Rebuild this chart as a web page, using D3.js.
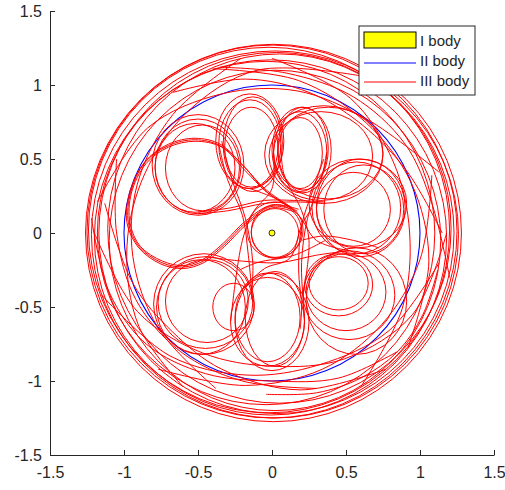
<!DOCTYPE html>
<html>
<head>
<meta charset="utf-8">
<script src="https://cdn.jsdelivr.net/npm/d3@7"></script>
<style>
  body { margin: 0; background: #fff; }
  svg { display: block; font-family: "Liberation Sans", Arial, sans-serif; }
</style>
</head>
<body>
<div id="chart"></div>
<script>
// tick values / labels (same on both axes)
var tickValues = [-1.5, -1, -0.5, 0, 0.5, 1, 1.5];
var tickLabels = ["-1.5", "-1", "-0.5", "0", "0.5", "1", "1.5"];
var legendLabels = ["I body", "II body", "III body"];

// body I sits at the origin, body II runs on the unit circle
var bodyI = [0, 0];
var bodyIIOrbit = [{cx: 0, cy: 0, r: 1}];

// body III, outer revolutions read as ellipses [cx, cy, rx, ry]
var outerLoops = [
  [0.01, 0.00, 1.27, 1.275],
  [0.00, 0.01, 1.25, 1.26],
  [0.02, -0.01, 1.24, 1.24],
  [-0.02, 0.02, 1.22, 1.235],
  [0.03, 0.00, 1.20, 1.22],
  [-0.01, -0.03, 1.19, 1.20],
  [0.05, 0.03, 1.16, 1.18],
  [-0.04, 0.00, 1.14, 1.16],
  [0.02, -0.05, 1.12, 1.15]
];

// body III, tight passes round body I
var innerRing = [
  [0.03, 0.01, 0.17, 0.18],
  [0.02, 0.00, 0.16, 0.165],
  [0.02, 0.02, 0.19, 0.19]
];

// body III, curls of the rosette [cx, cy, rx, ry]
var curlUpperLeft  = [[-0.50, 0.45, 0.29, 0.32], [-0.50, 0.46, 0.31, 0.34], [-0.47, 0.44, 0.25, 0.29], [-0.52, 0.44, 0.27, 0.30]];
var curlTopLeft    = [[-0.15, 0.60, 0.21, 0.30], [-0.15, 0.62, 0.23, 0.32], [-0.14, 0.58, 0.18, 0.27], [-0.13, 0.60, 0.20, 0.32]];
var curlTopRight   = [[0.19, 0.55, 0.18, 0.27], [0.20, 0.56, 0.20, 0.29], [0.19, 0.54, 0.15, 0.24], [0.21, 0.57, 0.17, 0.28]];
var curlUpperRight = [[0.35, 0.53, 0.40, 0.33], [0.38, 0.54, 0.37, 0.31], [0.33, 0.52, 0.35, 0.30]];
var curlRight      = [[0.57, 0.17, 0.30, 0.31], [0.60, 0.17, 0.30, 0.33], [0.55, 0.16, 0.25, 0.25], [0.62, 0.16, 0.27, 0.30], [0.58, 0.20, 0.33, 0.30]];
var curlLowerRight = [[0.45, -0.35, 0.23, 0.21], [0.52, -0.42, 0.31, 0.30], [0.57, -0.46, 0.34, 0.36], [0.45, -0.34, 0.20, 0.18], [0.50, -0.40, 0.27, 0.26]];
var curlBottom     = [[-0.03, -0.57, 0.22, 0.30], [-0.03, -0.60, 0.25, 0.30], [0.00, -0.60, 0.25, 0.33], [0.02, -0.58, 0.20, 0.32]];
var curlLowerLeft  = [[-0.45, -0.47, 0.32, 0.31], [-0.46, -0.48, 0.34, 0.34], [-0.44, -0.46, 0.28, 0.28], [-0.26, -0.50, 0.14, 0.16], [-0.48, -0.50, 0.30, 0.32]];

// body III, the heavy left lobe [x, y]
var lobeLeft = [
  [[0.12, 0.18], [-0.05, 0.30], [-0.19, 0.45], [-0.35, 0.60], [-0.52, 0.64], [-0.70, 0.60], [-0.86, 0.48], [-0.96, 0.28], [-0.98, 0.07], [-0.90, -0.10], [-0.75, -0.21], [-0.60, -0.24], [-0.46, -0.20], [-0.32, -0.09], [-0.17, 0.06], [0.00, 0.17], [0.16, 0.14]],
  [[0.14, 0.16], [-0.04, 0.28], [-0.18, 0.42], [-0.34, 0.58], [-0.52, 0.62], [-0.70, 0.58], [-0.85, 0.47], [-0.95, 0.27], [-0.96, 0.07], [-0.89, -0.09], [-0.74, -0.19], [-0.60, -0.22], [-0.47, -0.18], [-0.33, -0.07], [-0.18, 0.08], [0.00, 0.19], [0.18, 0.16]],
  [[0.13, 0.17], [-0.05, 0.29], [-0.18, 0.44], [-0.35, 0.59], [-0.52, 0.63], [-0.70, 0.59], [-0.86, 0.475], [-0.955, 0.275], [-0.97, 0.07], [-0.895, -0.095], [-0.745, -0.20], [-0.60, -0.23], [-0.465, -0.19], [-0.325, -0.08], [-0.175, 0.07], [0.00, 0.18], [0.17, 0.15]]
];

// body III, legs running from curl to curl past body I [x, y]
var legs = [
  [[-0.50, 0.13], [-0.30, 0.15], [-0.05, 0.20], [0.15, 0.21], [0.35, 0.20]],
  [[-0.50, 0.14], [-0.28, 0.17], [-0.05, 0.22], [0.15, 0.22], [0.36, 0.21]],
  [[0.37, 0.55], [0.33, 0.35], [0.24, 0.10], [0.20, -0.20], [0.21, -0.45], [0.22, -0.60]],
  [[0.35, 0.50], [0.28, 0.30], [0.20, 0.05], [0.18, -0.25], [0.20, -0.50], [0.19, -0.65]],
  [[-0.36, 0.60], [-0.30, 0.36], [-0.20, 0.12], [-0.16, -0.15], [-0.13, -0.47]],
  [[-0.34, 0.62], [-0.27, 0.36], [-0.18, 0.10], [-0.13, -0.20], [-0.14, -0.45]],
  [[-0.45, -0.16], [-0.20, -0.19], [0.05, -0.20], [0.30, -0.15], [0.52, -0.12]],
  [[0.06, 0.60], [0.08, 0.40], [0.20, 0.15], [0.25, -0.05], [0.21, -0.42]],
  [[0.27, 0.17], [0.20, 0.05], [0.12, -0.17], [-0.05, -0.24], [-0.21, -0.39]],
  [[0.36, -0.05], [0.15, -0.15], [-0.10, -0.20], [-0.22, -0.25]],
  [[0.01, 0.55], [0.00, 0.30], [-0.12, 0.15], [-0.20, -0.05], [-0.28, -0.60]],
  [[0.52, -0.12], [0.30, -0.05], [0.18, 0.12], [0.05, 0.22], [-0.15, 0.30]],
  [[0.20, -0.05], [0.35, -0.02], [0.55, -0.05], [0.72, -0.10]]
];

// body III, arcs dipping through the orbit of body II [x, y]
var dips = [
  [[-1.20, 0.00], [-0.91, -0.53], [-0.47, -0.81], [0.00, -0.90], [0.49, -0.85], [0.95, -0.55], [1.18, 0.00]],
  [[-1.15, -0.42], [-0.69, -0.83], [-0.17, -0.96], [0.32, -0.89], [0.79, -0.66], [1.13, -0.20]],
  [[-1.13, 0.20], [-0.94, -0.34], [-0.67, -0.67], [-0.34, -0.92], [0.19, -1.06], [0.77, -0.92]],
  [[0.60, -1.04], [0.88, -0.51], [0.93, 0.00], [0.82, 0.48], [0.53, 0.91], [0.00, 1.18]],
  [[1.13, 0.41], [0.64, 0.77], [0.17, 0.96], [-0.34, 0.94], [-0.84, 0.71], [-1.18, 0.21]],
  [[1.15, 0.00], [0.91, 0.42], [0.61, 0.73], [0.25, 0.95], [-0.18, 1.04], [-0.67, 0.95]],
  [[0.61, 1.06], [-0.10, 1.10], [-0.57, 0.82], [-0.86, 0.40], [-0.98, -0.09], [-0.90, -0.63], [-0.60, -1.04]],
  [[-0.21, 1.18], [-0.67, 0.80], [-0.91, 0.33], [-0.94, -0.16], [-0.77, -0.64], [-0.38, -1.05]],
  [[-0.77, -0.92], [-0.18, -1.03], [0.34, -0.92], [0.74, -0.62], [1.00, -0.18], [1.08, 0.39]],
  [[0.92, -0.77], [1.06, -0.19], [0.94, 0.34], [0.63, 0.75], [0.18, 1.03], [-0.40, 1.11]],
  [[-1.22, 0.10], [-1.10, -0.40], [-0.85, -0.75], [-0.45, -0.95], [0.00, -1.00], [0.45, -0.98], [0.85, -0.80]],
  [[-1.05, 0.50], [-1.05, 0.00], [-0.92, -0.45], [-0.62, -0.80], [-0.20, -1.00], [0.30, -1.05]],
  [[1.20, -0.30], [1.08, 0.20], [0.90, 0.60], [0.55, 0.92], [0.10, 1.08], [-0.35, 1.12]]
];
// last stretch of the run, ending near the bottom
var tailArc = [[-0.04, -1.09], [0.30, -1.08], [0.60, -0.98], [0.85, -0.80], [1.02, -0.55], [1.12, -0.25]];

var curls = [].concat(curlUpperLeft, curlTopLeft, curlTopRight, curlUpperRight,
                      curlRight, curlLowerRight, curlBottom, curlLowerLeft);
var paths = [].concat(lobeLeft, legs, dips, [tailArc]);

// set the dimensions and margins of the graph
var margin = {top: 11, right: 11, bottom: 35, left: 50},
    width = 505 - margin.left - margin.right,
    height = 490 - margin.top - margin.bottom;

var x = d3.scaleLinear().domain([-1.5, 1.5]).range([0, width]);
var y = d3.scaleLinear().domain([-1.5, 1.5]).range([height, 0]);

var svg = d3.select("#chart").append("svg")
    .attr("width", width + margin.left + margin.right)
    .attr("height", height + margin.top + margin.bottom)
  .append("g")
    .attr("transform", "translate(" + margin.left + "," + margin.top + ")");

// body II orbit
svg.selectAll(".orbit2")
    .data(bodyIIOrbit)
  .enter().append("ellipse")
    .attr("class", "orbit2")
    .attr("cx", function(d) { return x(d.cx); })
    .attr("cy", function(d) { return y(d.cy); })
    .attr("rx", function(d) { return x(d.r) - x(0); })
    .attr("ry", function(d) { return y(0) - y(d.r); })
    .style("fill", "none")
    .style("stroke", "#0000ff")
    .style("stroke-width", 1.1);

// body III
var red = svg.append("g")
    .style("fill", "none")
    .style("stroke", "#ff0000")
    .style("stroke-width", 1);

red.selectAll(".loop")
    .data(outerLoops.concat(innerRing, curls))
  .enter().append("ellipse")
    .attr("class", "loop")
    .attr("cx", function(d) { return x(d[0]); })
    .attr("cy", function(d) { return y(d[1]); })
    .attr("rx", function(d) { return x(d[2]) - x(0); })
    .attr("ry", function(d) { return y(0) - y(d[3]); });

var line = d3.line()
    .x(function(d) { return x(d[0]); })
    .y(function(d) { return y(d[1]); })
    .curve(d3.curveCatmullRom.alpha(0.5));

red.selectAll(".track")
    .data(paths)
  .enter().append("path")
    .attr("class", "track")
    .attr("d", line);

// body I
svg.append("circle")
    .attr("cx", x(bodyI[0]))
    .attr("cy", y(bodyI[1]))
    .attr("r", 3)
    .style("fill", "#ffff00")
    .style("stroke", "#333333")
    .style("stroke-width", 1);

// axes, MATLAB style: ticks pointing inward, no box
var axisColor = "#262626";
var xAxis = svg.append("g")
    .attr("transform", "translate(0," + height + ")")
    .call(d3.axisBottom(x).tickValues(tickValues).tickSizeInner(-5).tickSizeOuter(0)
      .tickFormat(function(d, i) { return tickLabels[i]; }));
xAxis.selectAll("text").attr("y", 12).attr("dy", "0.71em");

var yAxis = svg.append("g")
    .call(d3.axisLeft(y).tickValues(tickValues).tickSizeInner(-5).tickSizeOuter(0)
      .tickFormat(function(d, i) { return tickLabels[i]; }));
yAxis.selectAll("text").attr("x", -8);

[xAxis, yAxis].forEach(function(a) {
  a.select(".domain").attr("stroke", axisColor);
  a.selectAll("line").attr("stroke", axisColor);
  a.selectAll("text").attr("fill", axisColor).style("font-size", "16px")
    .style("font-family", "'Liberation Sans', Arial, sans-serif");
});

// legend
var legend = svg.append("g")
    .attr("transform", "translate(" + (359 - margin.left) + "," + (26 - margin.top) + ")");
legend.append("rect")
    .attr("width", 116).attr("height", 69)
    .style("fill", "#fff").style("stroke", axisColor).style("stroke-width", 1);
legend.append("rect")
    .attr("x", 5).attr("y", 6).attr("width", 52).attr("height", 16)
    .style("fill", "#ffff00").style("stroke", "#000").style("stroke-width", 1);
legend.append("line")
    .attr("x1", 5).attr("x2", 57).attr("y1", 37).attr("y2", 37)
    .style("stroke", "#0000ff").style("stroke-width", 1);
legend.append("line")
    .attr("x1", 5).attr("x2", 57).attr("y1", 56).attr("y2", 56)
    .style("stroke", "#ff0000").style("stroke-width", 1);
legend.selectAll(".lab")
    .data(legendLabels)
  .enter().append("text")
    .attr("class", "lab")
    .attr("x", 61)
    .attr("y", function(d, i) { return 20 + i * 20; })
    .style("font-size", "15px")
    .style("fill", axisColor)
    .text(function(d) { return d; });
</script>
</body>
</html>
